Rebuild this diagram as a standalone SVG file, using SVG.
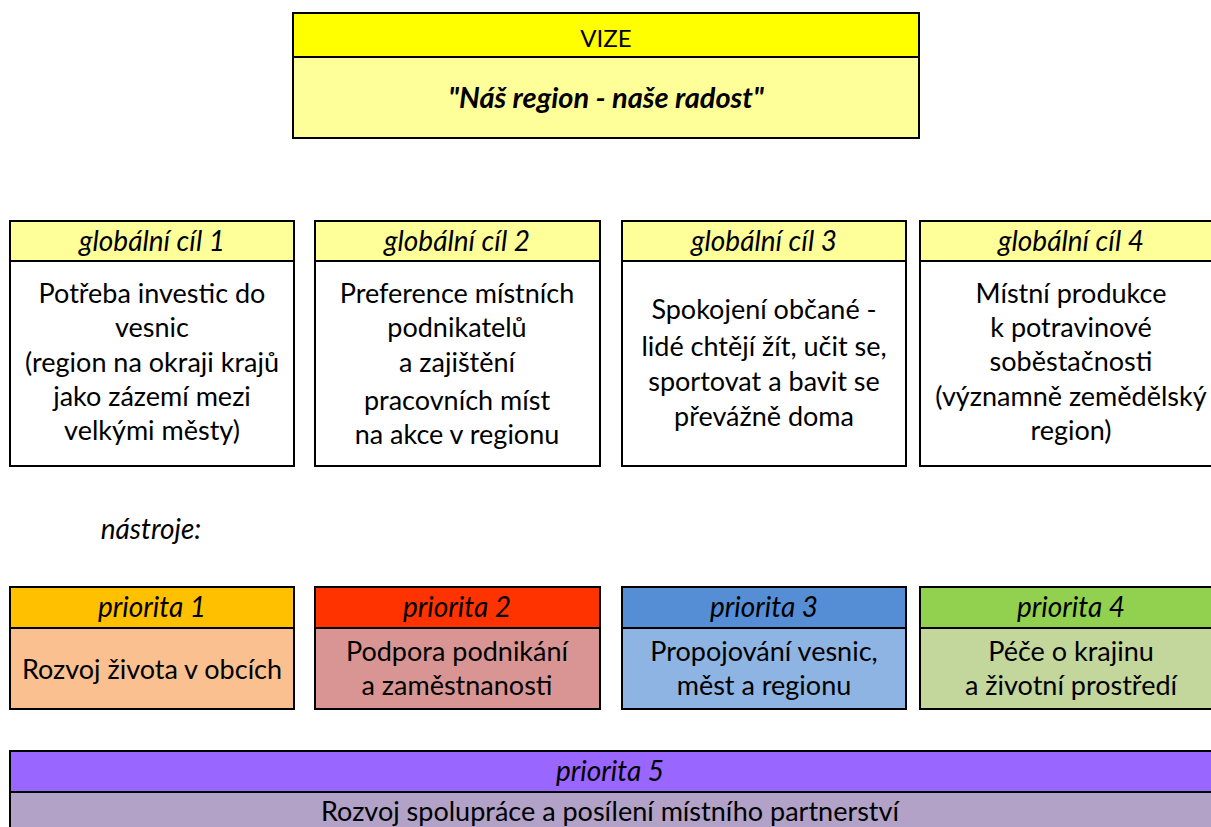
<svg xmlns="http://www.w3.org/2000/svg" width="1211" height="827" viewBox="0 0 1211 827">
<style>
  .box { stroke: #000; stroke-width: 2; }
  text { font-family: Lato, "Open Sans", "DejaVu Sans", sans-serif; fill: #000; text-anchor: middle; }
  .hd { font-size: 28px; font-style: italic; }
  .bd { font-size: 27px; }
  .vz { font-size: 24px; }
  .vq { font-size: 29px; font-style: italic; font-weight: bold; }
</style>
<rect width="1211" height="827" fill="#fff"/>

<g id="vize">
  <rect class="box" x="293" y="13" width="626" height="44" fill="#FFFF00"/>
  <rect class="box" x="293" y="57" width="626" height="81" fill="#FFFF99"/>
  <text class="vz" x="606" y="47">VIZE</text>
  <text class="vq" x="606" y="108">"Náš region - naše radost"</text>
</g>

<g id="cil1">
  <rect class="box" x="10" y="221" width="284" height="40" fill="#FFFF99"/>
  <rect class="box" x="10" y="261" width="284" height="205" fill="#FFFFFF"/>
  <text class="hd" x="152" y="251">globální cíl 1</text>
  <text class="bd" x="152" y="303">Potřeba investic do</text>
  <text class="bd" x="152" y="337">vesnic</text>
  <text class="bd" x="152" y="372">(region na okraji krajů</text>
  <text class="bd" x="152" y="406">jako zázemí mezi</text>
  <text class="bd" x="152" y="440">velkými městy)</text>
</g>

<g id="cil2">
  <rect class="box" x="315" y="221" width="285" height="40" fill="#FFFF99"/>
  <rect class="box" x="315" y="261" width="285" height="205" fill="#FFFFFF"/>
  <text class="hd" x="457" y="251">globální cíl 2</text>
  <text class="bd" x="457" y="303">Preference místních</text>
  <text class="bd" x="457" y="337">podnikatelů</text>
  <text class="bd" x="457" y="372">a zajištění</text>
  <text class="bd" x="457" y="410">pracovních míst</text>
  <text class="bd" x="457" y="444">na akce v regionu</text>
</g>

<g id="cil3">
  <rect class="box" x="622" y="221" width="284" height="40" fill="#FFFF99"/>
  <rect class="box" x="622" y="261" width="284" height="205" fill="#FFFFFF"/>
  <text class="hd" x="764" y="251">globální cíl 3</text>
  <text class="bd" x="764" y="319">Spokojení občané -</text>
  <text class="bd" x="764" y="356">lidé chtějí žít, učit se,</text>
  <text class="bd" x="764" y="391">sportovat a bavit se</text>
  <text class="bd" x="764" y="426">převážně doma</text>
</g>

<g id="cil4">
  <rect class="box" x="920" y="221" width="302" height="40" fill="#FFFF99"/>
  <rect class="box" x="920" y="261" width="302" height="205" fill="#FFFFFF"/>
  <text class="hd" x="1071" y="251">globální cíl 4</text>
  <text class="bd" x="1071" y="303">Místní produkce</text>
  <text class="bd" x="1071" y="337">k potravinové</text>
  <text class="bd" x="1071" y="371">soběstačnosti</text>
  <text class="bd" x="1071" y="406">(významně zemědělský</text>
  <text class="bd" x="1071" y="440">region)</text>
</g>

<text class="hd" x="151" y="539">nástroje:</text>

<g id="priorita1">
  <rect class="box" x="10" y="587" width="284" height="41" fill="#FFC000"/>
  <rect class="box" x="10" y="628" width="284" height="81" fill="#FAC090"/>
  <text class="hd" x="152" y="617">priorita 1</text>
  <text class="bd" x="152" y="679">Rozvoj života v obcích</text>
</g>

<g id="priorita2">
  <rect class="box" x="315" y="587" width="285" height="41" fill="#FF3300"/>
  <rect class="box" x="315" y="628" width="285" height="81" fill="#D99594"/>
  <text class="hd" x="457" y="617">priorita 2</text>
  <text class="bd" x="457" y="661">Podpora podnikání</text>
  <text class="bd" x="457" y="695">a zaměstnanosti</text>
</g>

<g id="priorita3">
  <rect class="box" x="622" y="587" width="284" height="41" fill="#558ED5"/>
  <rect class="box" x="622" y="628" width="284" height="81" fill="#8EB4E3"/>
  <text class="hd" x="764" y="617">priorita 3</text>
  <text class="bd" x="764" y="661">Propojování vesnic,</text>
  <text class="bd" x="764" y="695">měst a regionu</text>
</g>

<g id="priorita4">
  <rect class="box" x="920" y="587" width="302" height="41" fill="#92D050"/>
  <rect class="box" x="920" y="628" width="302" height="81" fill="#C3D69B"/>
  <text class="hd" x="1071" y="617">priorita 4</text>
  <text class="bd" x="1071" y="661">Péče o krajinu</text>
  <text class="bd" x="1071" y="695">a životní prostředí</text>
</g>

<g id="priorita5">
  <rect class="box" x="10" y="751" width="1212" height="41" fill="#9966FF"/>
  <rect class="box" x="10" y="792" width="1212" height="50" fill="#B2A2C7"/>
  <text class="hd" x="610" y="781">priorita 5</text>
  <text class="bd" x="610" y="821">Rozvoj spolupráce a posílení místního partnerství</text>
</g>

<g id="connectors"/>
</svg>
